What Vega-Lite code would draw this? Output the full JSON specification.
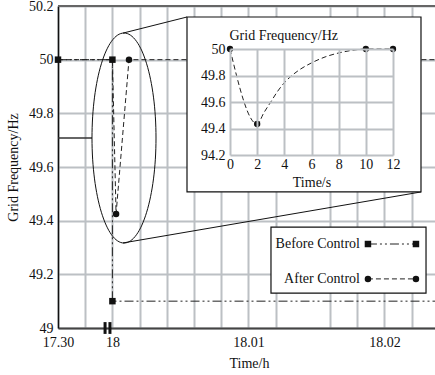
{
  "$schema": "https://vega.github.io/schema/vega-lite/v6.json",
  "width": 377,
  "height": 322,
  "autosize": {"type": "none"},
  "padding": {"left": 58, "top": 6, "right": 0, "bottom": 47},
  "config": {
    "view": {"stroke": null},
    "font": "Liberation Serif",
    "text": {"font": "Liberation Serif", "fontSize": 14, "color": "#111"}
  },
  "datasets": {
    "main": [
      {"series": "Before Control", "t": -4, "f": 50, "i": 0, "m": 1},
      {"series": "Before Control", "t": 0, "f": 50, "i": 1, "m": 1},
      {"series": "Before Control", "t": 0, "f": 49.1, "i": 2, "m": 1},
      {"series": "Before Control", "t": 23.72, "f": 49.1, "i": 3, "m": 0},
      {"series": "After Control", "t": -4, "f": 50, "i": 0, "m": 0},
      {"series": "After Control", "t": 0, "f": 50, "i": 1, "m": 0},
      {"series": "After Control", "t": 0.27, "f": 49.425, "i": 2, "m": 1},
      {"series": "After Control", "t": 1.22, "f": 50, "i": 3, "m": 1},
      {"series": "After Control", "t": 23.72, "f": 50, "i": 4, "m": 0}
    ],
    "inset": [
      {"s": 0, "f": 50, "i": 0, "m": 1},
      {"s": 2, "f": 49.434, "i": 1, "m": 1},
      {"s": 2.5, "f": 49.52, "i": 2, "m": 0},
      {"s": 3, "f": 49.6, "i": 3, "m": 0},
      {"s": 3.5, "f": 49.68, "i": 4, "m": 0},
      {"s": 4, "f": 49.745, "i": 5, "m": 0},
      {"s": 5, "f": 49.835, "i": 6, "m": 0},
      {"s": 6, "f": 49.895, "i": 7, "m": 0},
      {"s": 7, "f": 49.94, "i": 8, "m": 0},
      {"s": 8, "f": 49.97, "i": 9, "m": 0},
      {"s": 9, "f": 49.99, "i": 10, "m": 0},
      {"s": 10, "f": 50, "i": 11, "m": 1},
      {"s": 12, "f": 50, "i": 12, "m": 1}
    ],
    "legend": [
      {"series": "Before Control", "t": 18.79, "t2": 22.32, "f": 49.313},
      {"series": "After Control", "t": 18.79, "t2": 22.32, "f": 49.183}
    ],
    "brk": [{"t": -0.54}, {"t": -0.18}]
  },
  "layer": [
    {
      "data": {"name": "main"},
      "encoding": {
        "x": {
          "type": "quantitative",
          "scale": {"domain": [-4, 23.72], "nice": false, "zero": false},
          "axis": {
            "orient": "bottom",
            "values": [-4, -2, 0, 2, 4, 6, 8, 10, 12, 16, 18, 20, 22],
            "labelExpr": "datum.value == -4 ? '17.30' : datum.value == 0 ? '18' : datum.value == 10 ? '18.01' : datum.value == 20 ? '18.02' : ''",
            "grid": true,
            "gridColor": "#bcc0c4",
            "gridWidth": 2,
            "ticks": false,
            "labelFlush": false,
            "labelOverlap": false,
            "labelFont": "Liberation Serif",
            "labelFontSize": 14,
            "labelColor": "#111",
            "labelPadding": 7,
            "domainColor": "#444",
            "domainWidth": 2,
            "title": "Time/h",
            "titleFont": "Liberation Serif",
            "titleFontSize": 14,
            "titleFontWeight": "normal",
            "titleColor": "#111",
            "titleX": 191,
            "titleY": 39,
            "titleBaseline": "alphabetic"
          }
        },
        "y": {
          "type": "quantitative",
          "scale": {"domain": [49, 50.2], "nice": false, "zero": false},
          "axis": {
            "orient": "left",
            "values": [49, 49.2, 49.4, 49.6, 49.8, 50, 50.2],
            "format": "~g",
            "grid": true,
            "gridColor": "#bcc0c4",
            "gridWidth": 2,
            "ticks": false,
            "labelOverlap": false,
            "labelFont": "Liberation Serif",
            "labelFontSize": 14,
            "labelColor": "#111",
            "labelPadding": 5,
            "domainColor": "#111",
            "domainWidth": 1.5,
            "title": "Grid Frequency/Hz",
            "titleFont": "Liberation Serif",
            "titleFontSize": 14,
            "titleFontWeight": "normal",
            "titleColor": "#111",
            "titlePadding": 8
          }
        }
      },
      "layer": [
        {
          "mark": {"type": "line", "color": "#222", "strokeWidth": 1},
          "encoding": {
            "x": {"field": "t"},
            "y": {"field": "f"},
            "strokeDash": {
              "field": "series", "type": "nominal",
              "scale": {"domain": ["Before Control", "After Control"], "range": [[9, 3, 2, 3, 2, 3], [5, 3]]},
              "legend": null
            },
            "order": {"field": "i", "type": "quantitative"}
          }
        },
        {
          "transform": [{"filter": "datum.m == 1"}],
          "mark": {"type": "point", "filled": true, "size": 42, "color": "#111", "opacity": 1},
          "encoding": {
            "x": {"field": "t"},
            "y": {"field": "f"},
            "shape": {
              "field": "series", "type": "nominal",
              "scale": {"domain": ["Before Control", "After Control"], "range": ["square", "circle"]},
              "legend": null
            }
          }
        },
        {
          "data": {"values": [{}]},
          "mark": {"type": "rule", "color": "#666", "strokeWidth": 2},
          "encoding": {"x": {"datum": -4}, "x2": {"datum": 23.72}, "y": {"datum": 50.2}}
        },
        {
          "data": {"values": [{}]},
          "mark": {"type": "rule", "color": "#333", "strokeWidth": 1.5},
          "encoding": {"x": {"datum": -4}, "x2": {"datum": -1.5}, "y": {"datum": 49.708}}
        },
        {
          "data": {"values": [{}]},
          "mark": {
            "type": "point",
            "shape": "M0.3048,0C0.3048,0.5523 0.1683,1 0,1C-0.1683,1 -0.3048,0.5523 -0.3048,0C-0.3048,-0.5523 -0.1683,-1 0,-1C0.1683,-1 0.3048,-0.5523 0.3048,0Z",
            "size": 44100,
            "filled": false,
            "stroke": "#111",
            "strokeWidth": 1,
            "opacity": 1
          },
          "encoding": {"x": {"datum": 0.853}, "y": {"datum": 49.708}}
        },
        {
          "data": {"values": [{}]},
          "mark": {"type": "rule", "color": "#111", "strokeWidth": 1},
          "encoding": {"x": {"datum": 0.78}, "y": {"datum": 50.099}, "x2": {"datum": 5.485}, "y2": {"datum": 50.159}}
        },
        {
          "data": {"values": [{}]},
          "mark": {"type": "rule", "color": "#111", "strokeWidth": 1},
          "encoding": {"x": {"datum": 0.78}, "y": {"datum": 49.317}, "x2": {"datum": 22.69}, "y2": {"datum": 49.507}}
        },
        {
          "data": {"values": [{}]},
          "mark": {"type": "rect", "fill": "white", "stroke": "#111", "strokeWidth": 1.2},
          "encoding": {"x": {"datum": 5.485}, "x2": {"datum": 22.69}, "y": {"datum": 50.159}, "y2": {"datum": 49.507}}
        },
        {
          "data": {"values": [{}]},
          "mark": {"type": "rect", "fill": "white", "stroke": "#111", "strokeWidth": 1.2},
          "encoding": {"x": {"datum": 11.66}, "x2": {"datum": 23.06}, "y": {"datum": 49.376}, "y2": {"datum": 49.13}}
        },
        {
          "data": {"name": "legend"},
          "mark": {"type": "rule", "color": "#222", "strokeWidth": 1},
          "encoding": {
            "x": {"field": "t"},
            "x2": {"field": "t2"},
            "y": {"field": "f"},
            "strokeDash": {"field": "series", "type": "nominal", "legend": null}
          }
        },
        {
          "data": {"name": "legend"},
          "mark": {"type": "text", "align": "right", "baseline": "middle", "dx": -8, "font": "Liberation Serif", "fontSize": 14, "color": "#111"},
          "encoding": {
            "x": {"field": "t"},
            "y": {"field": "f"},
            "text": {"field": "series"}
          }
        },
        {
          "data": {"name": "legend"},
          "mark": {"type": "point", "filled": true, "size": 42, "color": "#111", "opacity": 1},
          "encoding": {
            "x": {"field": "t"},
            "y": {"field": "f"},
            "shape": {"field": "series", "type": "nominal", "legend": null}
          }
        },
        {
          "data": {"name": "legend"},
          "mark": {"type": "point", "filled": true, "size": 42, "color": "#111", "opacity": 1},
          "encoding": {
            "x": {"field": "t2"},
            "y": {"field": "f"},
            "shape": {"field": "series", "type": "nominal", "legend": null}
          }
        },
        {
          "data": {"name": "brk"},
          "mark": {"type": "rule", "color": "#111", "strokeWidth": 3},
          "encoding": {
            "x": {"field": "t"},
            "y": {"datum": 48.978},
            "y2": {"datum": 49.022}
          }
        }
      ]
    },
    {
      "data": {"name": "inset"},
      "encoding": {
        "x": {
          "type": "quantitative",
          "scale": {"domain": [0, 12], "range": [172, 335], "nice": false, "zero": false},
          "axis": {
            "orient": "top",
            "offset": -149,
            "values": [0, 2, 4, 6, 8, 10, 12],
            "grid": true,
            "gridColor": "#bcc0c4",
            "gridWidth": 2,
            "domain": false,
            "ticks": false,
            "tickSize": 0,
            "labelFlush": false,
            "labelOverlap": false,
            "labelFont": "Liberation Serif",
            "labelFontSize": 14,
            "labelColor": "#111",
            "labelBaseline": "top",
            "labelPadding": -2,
            "title": "Time/s",
            "titleFont": "Liberation Serif",
            "titleFontSize": 14,
            "titleFontWeight": "normal",
            "titleColor": "#111",
            "titleBaseline": "alphabetic",
            "titleY": 31,
            "zindex": 1
          }
        },
        "y": {
          "type": "quantitative",
          "scale": {"domain": [49.2, 50], "range": [149, 43], "nice": false, "zero": false},
          "axis": {
            "orient": "left",
            "offset": -172,
            "values": [49.2, 49.4, 49.6, 49.8, 50],
            "labelExpr": "datum.value < 49.3 ? '94.2' : format(datum.value, '~g')",
            "grid": true,
            "gridColor": "#bcc0c4",
            "gridWidth": 2,
            "domain": false,
            "ticks": false,
            "labelOverlap": false,
            "labelFont": "Liberation Serif",
            "labelFontSize": 14,
            "labelColor": "#111",
            "labelPadding": 5,
            "title": "Grid Frequency/Hz",
            "titleFont": "Liberation Serif",
            "titleFontSize": 14,
            "titleFontWeight": "normal",
            "titleColor": "#111",
            "titleAngle": 0,
            "titleAlign": "left",
            "titleBaseline": "alphabetic",
            "titleX": -1,
            "titleY": 33,
            "zindex": 1
          }
        }
      },
      "layer": [
        {
          "mark": {"type": "line", "color": "#222", "strokeWidth": 1, "strokeDash": [5, 3], "interpolate": "monotone"},
          "encoding": {
            "x": {"field": "s"},
            "y": {"field": "f"},
            "order": {"field": "i", "type": "quantitative"}
          }
        },
        {
          "transform": [{"filter": "datum.m == 1"}],
          "mark": {"type": "point", "filled": true, "size": 40, "shape": "circle", "color": "#111", "opacity": 1},
          "encoding": {
            "x": {"field": "s"},
            "y": {"field": "f"}
          }
        }
      ]
    }
  ],
  "resolve": {
    "scale": {"x": "independent", "y": "independent"},
    "axis": {"x": "independent", "y": "independent"}
  }
}
